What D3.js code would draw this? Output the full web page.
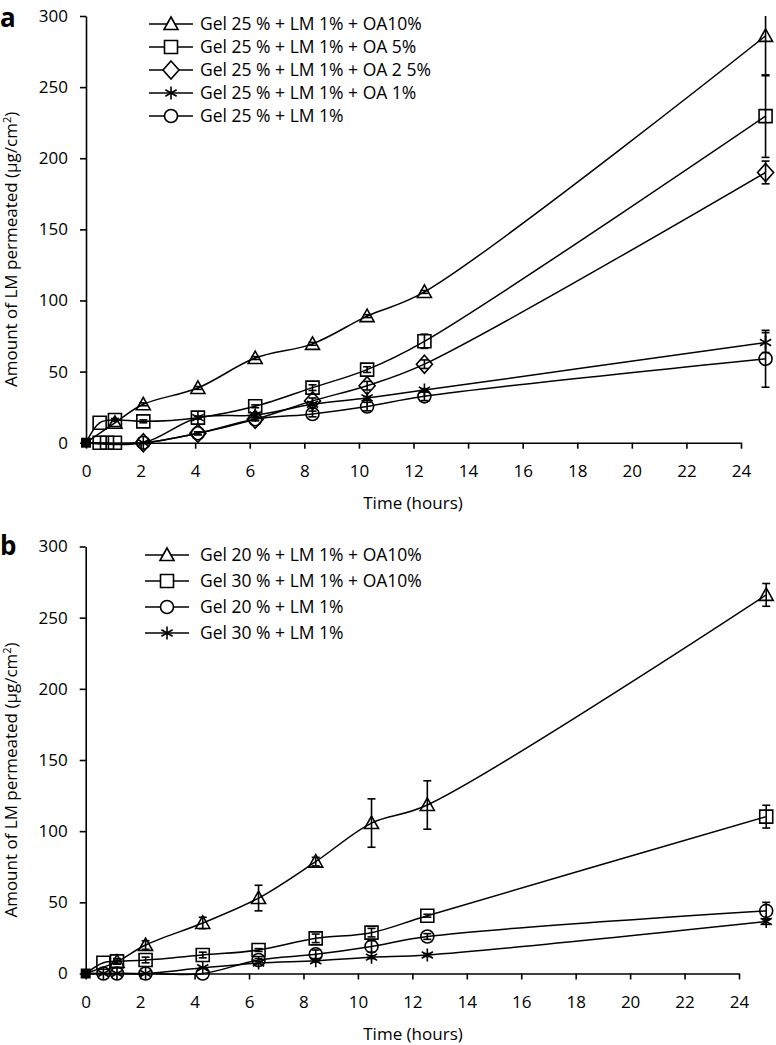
<!DOCTYPE html>
<html><head><meta charset="utf-8">
<script src="https://cdn.jsdelivr.net/npm/d3@7"></script>
<style>
body{margin:0;background:#fff}
svg{display:block}
text{font-family:"Open Sans",sans-serif;fill:#000}
</style>
</head><body>
<svg id="c" width="776" height="1045"></svg>
<script>
// ---------- Panel a data ----------
const timesA = [0, 0.5, 0.77, 1.06, 2.1, 4.1, 6.2, 8.3, 10.3, 12.4, 24.9];
const zeroSquaresA = [0.5, 0.77, 1.06];
const aOA10 = [0, null, null, 14, 27, 38.5, 59.5, 69.5, 89, 106, 286];
const aOA10Err = [0, 0, 0, 0, 1, 1, 1, 1, 1, 1, 28];
const aOA5 = [0, 14, null, 16, 15, 17.6, 25.6, 38.7, 51.4, 71.3, 229.6];
const aOA5Err = [0, 0, 0, 1, 1, 1, 1, 2, 2, 5, 29];
const aOA25 = [0, null, null, null, 0, 6.6, 16.5, 29.4, 40.1, 55.2, 190];
const aOA25Err = [0, 0, 0, 0, 0, 1, 1, 2, 3, 3, 8];
const aOA1 = [0, null, null, null, 0, 17.6, 19.5, 27, 31.5, 37, 70.4];
const aOA1Err = [0, 0, 0, 0, 0, 1, 1, 1, 1, 1, 7];
const aLM = [0, null, null, null, 0, 6.6, 16.5, 20.2, 25.4, 32.6, 59];
const aLMErr = [0, 0, 0, 0, 0, 1, 1, 2, 3, 3, 20];
const labelsA = ["Gel 25 % + LM 1% + OA10%", "Gel 25 % + LM 1% + OA 5%", "Gel 25 % + LM 1% + OA 2 5%", "Gel 25 % + LM 1% + OA 1%", "Gel 25 % + LM 1%"];
const symbolsA = ["triangle", "square", "diamond", "asterisk", "circle"];

// ---------- Panel b data ----------
const timesB = [0, 0.65, 1.15, 2.2, 4.3, 6.35, 8.45, 10.5, 12.55, 25];
const bG20OA10 = [0, null, 8.3, 20, 35.5, 53, 78.6, 105.7, 118.4, 266];
const bG20OA10Err = [0, 0, 1, 3, 4, 9, 3, 17, 17, 8];
const bG30OA10 = [0, 7.6, 8.5, 9.5, 13, 16.5, 24.7, 28.7, 40.6, 110.2];
const bG30OA10Err = [0, 0, 2, 2, 2, 1, 3, 3, 1, 8];
const bG20 = [0, 0, 0, 0, 0, 9.5, 13.5, 19, 26, 44];
const bG20Err = [0, 0, 0, 0, 0, 1, 3, 4, 2, 6];
const bG30 = [0, 0, 0, 0, 4, 7.4, 9, 11.5, 13, 36.5];
const bG30Err = [0, 0, 0, 0, 0, 0, 1, 1, 1, 2];
const labelsB = ["Gel 20 % + LM 1% + OA10%", "Gel 30 % + LM 1% + OA10%", "Gel 20 % + LM 1%", "Gel 30 % + LM 1%"];
const symbolsB = ["triangle", "square", "circle", "asterisk"];

const xTicks = [0, 2, 4, 6, 8, 10, 12, 14, 16, 18, 20, 22, 24];
const yTicks = [0, 50, 100, 150, 200, 250, 300];

// ---------- drawing ----------
const svg = d3.select("#c");

function symbolPath(type, cx, cy) {
  const p = d3.path();
  if (type === "triangle") {
    p.moveTo(cx, cy - 7); p.lineTo(cx + 7, cy + 5.5); p.lineTo(cx - 7, cy + 5.5); p.closePath();
  } else if (type === "square") {
    p.rect(cx - 6.5, cy - 6.5, 13, 13);
  } else if (type === "diamond") {
    p.moveTo(cx, cy - 9); p.lineTo(cx + 8, cy); p.lineTo(cx, cy + 9); p.lineTo(cx - 8, cy); p.closePath();
  } else if (type === "circle") {
    p.moveTo(cx + 6.5, cy); p.arc(cx, cy, 6.5, 0, 2 * Math.PI);
  } else if (type === "asterisk") {
    const r = 6.5;
    p.moveTo(cx, cy - r); p.lineTo(cx, cy + r);
    const dx = r * Math.cos(Math.PI / 6), dy = r * Math.sin(Math.PI / 6);
    p.moveTo(cx - dx, cy - dy); p.lineTo(cx + dx, cy + dy);
    p.moveTo(cx - dx, cy + dy); p.lineTo(cx + dx, cy - dy);
  }
  return p.toString();
}

function drawPanel(cfg) {
  const g = svg.append("g");
  const x = d3.scaleLinear().domain([0, 24]).range(cfg.xRange);
  const y = d3.scaleLinear().domain([0, 300]).range(cfg.yRange);

  // axes
  const yAxis = d3.axisLeft(y).tickValues(yTicks).tickSize(6).tickSizeOuter(0).tickPadding(12);
  const xAxis = d3.axisBottom(x).tickValues(xTicks).tickSize(6).tickSizeOuter(0).tickPadding(16);
  const gy = g.append("g").attr("transform", `translate(${cfg.xRange[0]},0)`).call(yAxis);
  const gx = g.append("g").attr("transform", `translate(0,${cfg.yRange[0]})`).call(xAxis);
  [gx, gy].forEach(a => {
    a.selectAll("path,line").attr("stroke", "#000").attr("stroke-width", 1.6);
    a.selectAll("text").attr("font-size", 17).attr("font-family", '"Open Sans",sans-serif');
  });

  // axis titles
  g.append("text").attr("x", 413).attr("y", cfg.yRange[0] + 66)
    .attr("text-anchor", "middle").attr("font-size", 17).text("Time (hours)");
  const yt = g.append("text")
    .attr("transform", `translate(17,${(cfg.yRange[0] + cfg.yRange[1]) / 2 + 20}) rotate(-90)`)
    .attr("text-anchor", "middle").attr("font-size", 17);
  yt.append("tspan").text("Amount of LM permeated (μg/cm");
  yt.append("tspan").attr("dy", -6).attr("font-size", 11).text("2");
  yt.append("tspan").attr("dy", 6).text(")");

  // panel letter
  g.append("text").attr("x", 0).attr("y", cfg.letterY).attr("font-size", 26)
    .attr("font-family", '"Liberation Sans",Arial,sans-serif')
    .attr("font-weight", "bold").text(cfg.letter);

  const line = d3.line()
    .defined(d => d.v !== null)
    .x(d => x(d.t)).y(d => y(d.v))
    .curve(d3.curveCatmullRom.alpha(0.5));

  cfg.series.forEach(s => {
    const pts = cfg.times.map((t, i) => ({ t, v: s.values[i], e: s.err[i] }));
    const def = pts.filter(d => d.v !== null);
    g.append("path").datum(def).attr("d", line)
      .attr("fill", "none").attr("stroke", "#000").attr("stroke-width", 1.5);
    // error bars
    def.filter(d => d.e > 0.5).forEach(d => {
      const lo = Math.max(0, d.v - d.e), hi = Math.min(300, d.v + d.e);
      const cx = x(d.t);
      g.append("line").attr("x1", cx).attr("x2", cx).attr("y1", y(lo)).attr("y2", y(hi))
        .attr("stroke", "#000").attr("stroke-width", 1.6);
      [d.v - d.e, d.v + d.e].forEach(c => {
        if (c >= 0 && c <= 300) g.append("line").attr("x1", cx - 4).attr("x2", cx + 4)
          .attr("y1", y(c)).attr("y2", y(c)).attr("stroke", "#000").attr("stroke-width", 1.6);
      });
    });
    // markers (skip origin)
    g.selectAll(null).data(def.filter(d => d.t > 0)).enter().append("path")
      .attr("d", d => symbolPath(s.symbol, x(d.t), y(d.v)))
      .attr("fill", "none").attr("stroke", "#000").attr("stroke-width", 1.6);
  });

  // extra zero squares
  (cfg.zeroSquares || []).forEach(t => {
    g.append("path").attr("d", symbolPath("square", x(t), y(0)))
      .attr("fill", "none").attr("stroke", "#000").attr("stroke-width", 1.6);
  });
  // filled origin marker
  g.append("rect").attr("x", x(0) - 5).attr("y", y(0) - 5).attr("width", 10).attr("height", 10).attr("fill", "#000");

  // legend
  cfg.series.forEach((s, i) => {
    const ly = cfg.legY + i * cfg.legStep;
    g.append("line").attr("x1", cfg.legX).attr("x2", cfg.legX + 44).attr("y1", ly).attr("y2", ly)
      .attr("stroke", "#000").attr("stroke-width", 1.5);
    g.append("path").attr("d", symbolPath(s.symbol, cfg.legX + 22, ly))
      .attr("fill", "#fff").attr("stroke", "#000").attr("stroke-width", 1.6);
    g.append("text").attr("x", 200).attr("y", ly + 6).attr("font-size", 17.5).text(s.label);
  });
}

drawPanel({
  letter: "a", letterY: 27, xRange: [86, 741], yRange: [442.7, 16], times: timesA, zeroSquares: zeroSquaresA,
  legX: 149, legY: 24, legStep: 23,
  series: [
    { values: aOA10, err: aOA10Err, symbol: symbolsA[0], label: labelsA[0] },
    { values: aOA5, err: aOA5Err, symbol: symbolsA[1], label: labelsA[1] },
    { values: aOA25, err: aOA25Err, symbol: symbolsA[2], label: labelsA[2] },
    { values: aOA1, err: aOA1Err, symbol: symbolsA[3], label: labelsA[3] },
    { values: aLM, err: aLMErr, symbol: symbolsA[4], label: labelsA[4] }
  ]
});
drawPanel({
  letter: "b", letterY: 555, xRange: [85.7, 739], yRange: [973.5, 546.5], times: timesB,
  legX: 145, legY: 555, legStep: 26,
  series: [
    { values: bG20OA10, err: bG20OA10Err, symbol: symbolsB[0], label: labelsB[0] },
    { values: bG30OA10, err: bG30OA10Err, symbol: symbolsB[1], label: labelsB[1] },
    { values: bG20, err: bG20Err, symbol: symbolsB[2], label: labelsB[2] },
    { values: bG30, err: bG30Err, symbol: symbolsB[3], label: labelsB[3] }
  ]
});
</script>
</body></html>
